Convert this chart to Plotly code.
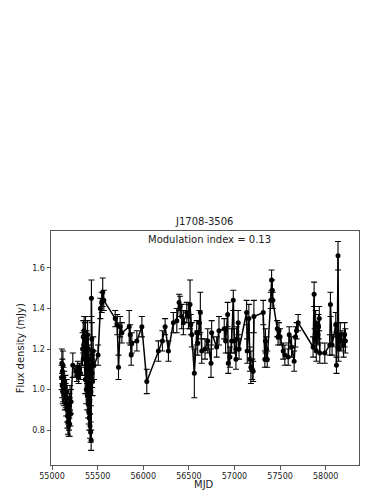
import plotly.graph_objects as go

mjd = [
    55105, 55108, 55111, 55114, 55117, 55120, 55123, 55126, 55130, 55134,
    55138, 55142, 55146, 55150, 55155, 55160, 55165, 55170, 55174, 55178,
    55182, 55186, 55190, 55194, 55198, 55203, 55208, 55228,
    55262, 55272, 55282, 55292, 55302, 55312,
    55335, 55342, 55348, 55352, 55356, 55360, 55364, 55368, 55372, 55376,
    55380, 55384, 55387, 55390, 55393, 55396, 55399, 55402, 55405, 55408,
    55411, 55414, 55417, 55420, 55423, 55426, 55429, 55432, 55436, 55440,
    55445, 55452, 55460, 55505, 55530, 55545, 55556, 55568,
    55693, 55715, 55729, 55747, 55766, 55846, 55857, 55868, 55875, 55930,
    55985, 56039, 56166, 56210, 56240, 56276, 56330, 56368, 56393, 56404,
    56422, 56440, 56477, 56495, 56513, 56521, 56532, 56560, 56586, 56597,
    56615, 56626, 56641, 56677, 56707, 56743, 56750, 56805, 56830, 56888,
    56903, 56925, 56932, 56950, 56969, 56987, 56998, 57016, 57024, 57041,
    57050, 57133, 57140, 57158, 57169, 57180, 57195, 57205, 57213, 57315,
    57333, 57340, 57350, 57359, 57398, 57407, 57414, 57420, 57469, 57478,
    57488, 57500, 57534, 57552, 57589, 57600, 57626, 57654, 57669, 57680,
    57698, 57862, 57873, 57880, 57890, 57897, 57905, 57915, 57922, 57930,
    57935, 57990, 58045, 58052, 58070, 58110, 58118, 58128, 58135, 58142,
    58160, 58178, 58196, 58207, 58216,
]
flux = [
    1.06, 1.13, 1.02, 1.09, 0.99, 1.12, 1.00, 1.05, 0.98, 1.03,
    1.00, 0.96, 1.01, 0.97, 0.93, 0.99, 0.90, 0.87, 0.84, 0.89,
    0.82, 0.86, 0.92, 0.83, 0.96, 0.88, 0.94, 1.12,
    1.09, 1.07, 1.11, 1.06, 1.10, 1.08,
    1.20, 1.26, 1.22, 1.29, 1.15, 1.25, 1.05, 1.28, 1.18, 1.00,
    1.22, 1.10, 0.97, 1.27, 1.05, 0.93, 1.20, 0.89, 1.15, 0.86,
    1.02, 0.94, 0.82, 1.12, 0.79, 0.99, 0.75, 1.45, 1.25, 1.08,
    1.04, 1.19, 1.12, 1.17, 1.40, 1.43, 1.48, 1.44,
    1.35, 1.32, 1.11, 1.31, 1.28, 1.31, 1.27, 1.17, 1.23, 1.24,
    1.31, 1.04, 1.19, 1.24, 1.31, 1.19, 1.33, 1.34, 1.43, 1.41,
    1.36, 1.33, 1.38, 1.36, 1.42, 1.32, 1.27, 1.08, 1.28, 1.23,
    1.33, 1.38, 1.19, 1.20, 1.24, 1.13, 1.28, 1.21, 1.29, 1.30,
    1.24, 1.37, 1.13, 1.16, 1.24, 1.44, 1.24, 1.15, 1.25, 1.33,
    1.20, 1.38, 1.19, 1.35, 1.15, 1.11, 1.10, 1.09, 1.36, 1.38,
    1.15, 1.24, 1.20, 1.15, 1.44, 1.54, 1.49, 1.44, 1.30, 1.26,
    1.29, 1.26, 1.19, 1.17, 1.16, 1.27, 1.21, 1.14, 1.26, 1.29,
    1.33, 1.21, 1.47, 1.25, 1.33, 1.19, 1.28, 1.27, 1.31, 1.35,
    1.18, 1.18, 1.22, 1.42, 1.22, 1.32, 1.12, 1.27, 1.66, 1.20,
    1.27, 1.24, 1.22, 1.27, 1.24,
]
err = [
    0.06, 0.07, 0.06, 0.06, 0.06, 0.07, 0.06, 0.06, 0.06, 0.06,
    0.05, 0.06, 0.06, 0.06, 0.06, 0.06, 0.06, 0.06, 0.06, 0.06,
    0.05, 0.06, 0.06, 0.06, 0.06, 0.06, 0.06, 0.06,
    0.03, 0.03, 0.03, 0.03, 0.03, 0.03,
    0.08, 0.08, 0.07, 0.07, 0.08, 0.08, 0.07, 0.08, 0.07, 0.07,
    0.07, 0.07, 0.07, 0.07, 0.07, 0.07, 0.07, 0.06, 0.07, 0.06,
    0.07, 0.06, 0.06, 0.07, 0.05, 0.07, 0.05, 0.09, 0.08, 0.07,
    0.07, 0.07, 0.07, 0.05, 0.05, 0.05, 0.07, 0.05,
    0.04, 0.05, 0.06, 0.05, 0.05, 0.08, 0.05, 0.05, 0.05, 0.05,
    0.05, 0.06, 0.05, 0.05, 0.04, 0.05, 0.05, 0.06, 0.04, 0.05,
    0.06, 0.06, 0.05, 0.06, 0.12, 0.05, 0.06, 0.12, 0.06, 0.06,
    0.06, 0.10, 0.06, 0.05, 0.06, 0.07, 0.06, 0.05, 0.07, 0.05,
    0.06, 0.06, 0.05, 0.05, 0.06, 0.05, 0.06, 0.05, 0.06, 0.06,
    0.05, 0.06, 0.06, 0.07, 0.06, 0.08, 0.05, 0.05, 0.08, 0.06,
    0.04, 0.06, 0.06, 0.04, 0.04, 0.05, 0.05, 0.04, 0.04, 0.04,
    0.04, 0.04, 0.04, 0.05, 0.04, 0.04, 0.05, 0.05, 0.05, 0.04,
    0.04, 0.05, 0.06, 0.05, 0.06, 0.05, 0.05, 0.05, 0.06, 0.06,
    0.05, 0.05, 0.05, 0.06, 0.05, 0.06, 0.04, 0.06, 0.07, 0.06,
    0.06, 0.05, 0.06, 0.06, 0.06,
]

x_ticks = [55000, 55500, 56000, 56500, 57000, 57500, 58000]
y_ticks = [0.8, 1.0, 1.2, 1.4, 1.6]

source = "J1708-3506"
mod_index = 0.13

font = "DejaVu Sans"
txt = "#222222"

fig = go.Figure()
fig.add_trace(go.Scatter(
    x=mjd, y=flux, mode="lines+markers",
    line=dict(color="black", width=1.5),
    marker=dict(color="black", size=5),
    error_y=dict(type="data", array=err, color="black", thickness=1.1, width=3),
    showlegend=False,
))

axis_common = dict(
    showgrid=False, zeroline=False,
    showline=True, linecolor="#555555", linewidth=1, mirror=True,
    ticks="outside", ticklen=3.5, tickcolor="#555555", tickwidth=1,
    tickfont=dict(family=font, size=8, color=txt),
)

fig.update_layout(
    width=382, height=494,
    margin=dict(l=51, r=23, t=231, b=29),
    paper_bgcolor="white", plot_bgcolor="white",
    xaxis=dict(range=[54989, 58365], tickvals=x_ticks,
               ticktext=[str(v) for v in x_ticks], **axis_common),
    yaxis=dict(range=[0.628, 1.782], tickvals=y_ticks,
               ticktext=[f"{v:.1f}" for v in y_ticks], **axis_common),
)

# title, in-panel label and axis labels as matplotlib places them
fig.add_annotation(text=source, xref="paper", yref="paper", x=0.497, y=1.0,
                   yshift=10, showarrow=False, xanchor="center", yanchor="middle",
                   font=dict(family=font, size=10, color=txt))
fig.add_annotation(text=f"Modulation index = {mod_index}", xref="paper", yref="paper",
                   x=0.513, y=0.963, showarrow=False, xanchor="center", yanchor="middle",
                   font=dict(family=font, size=10, color=txt))
fig.add_annotation(text="MJD", xref="paper", yref="paper", x=0.497, y=0,
                   yshift=-19, showarrow=False, xanchor="center", yanchor="middle",
                   font=dict(family=font, size=10, color=txt))
fig.add_annotation(text="Flux density (mJy)", xref="paper", yref="paper",
                   x=-0.0995, y=0.5, textangle=-90, showarrow=False,
                   xanchor="center", yanchor="middle",
                   font=dict(family=font, size=10, color=txt))

# drop the page's default body margin so the figure sits at the window origin
fig.write_html("out.html", config={"displayModeBar": False},
               post_script="document.body.style.margin='0';")
